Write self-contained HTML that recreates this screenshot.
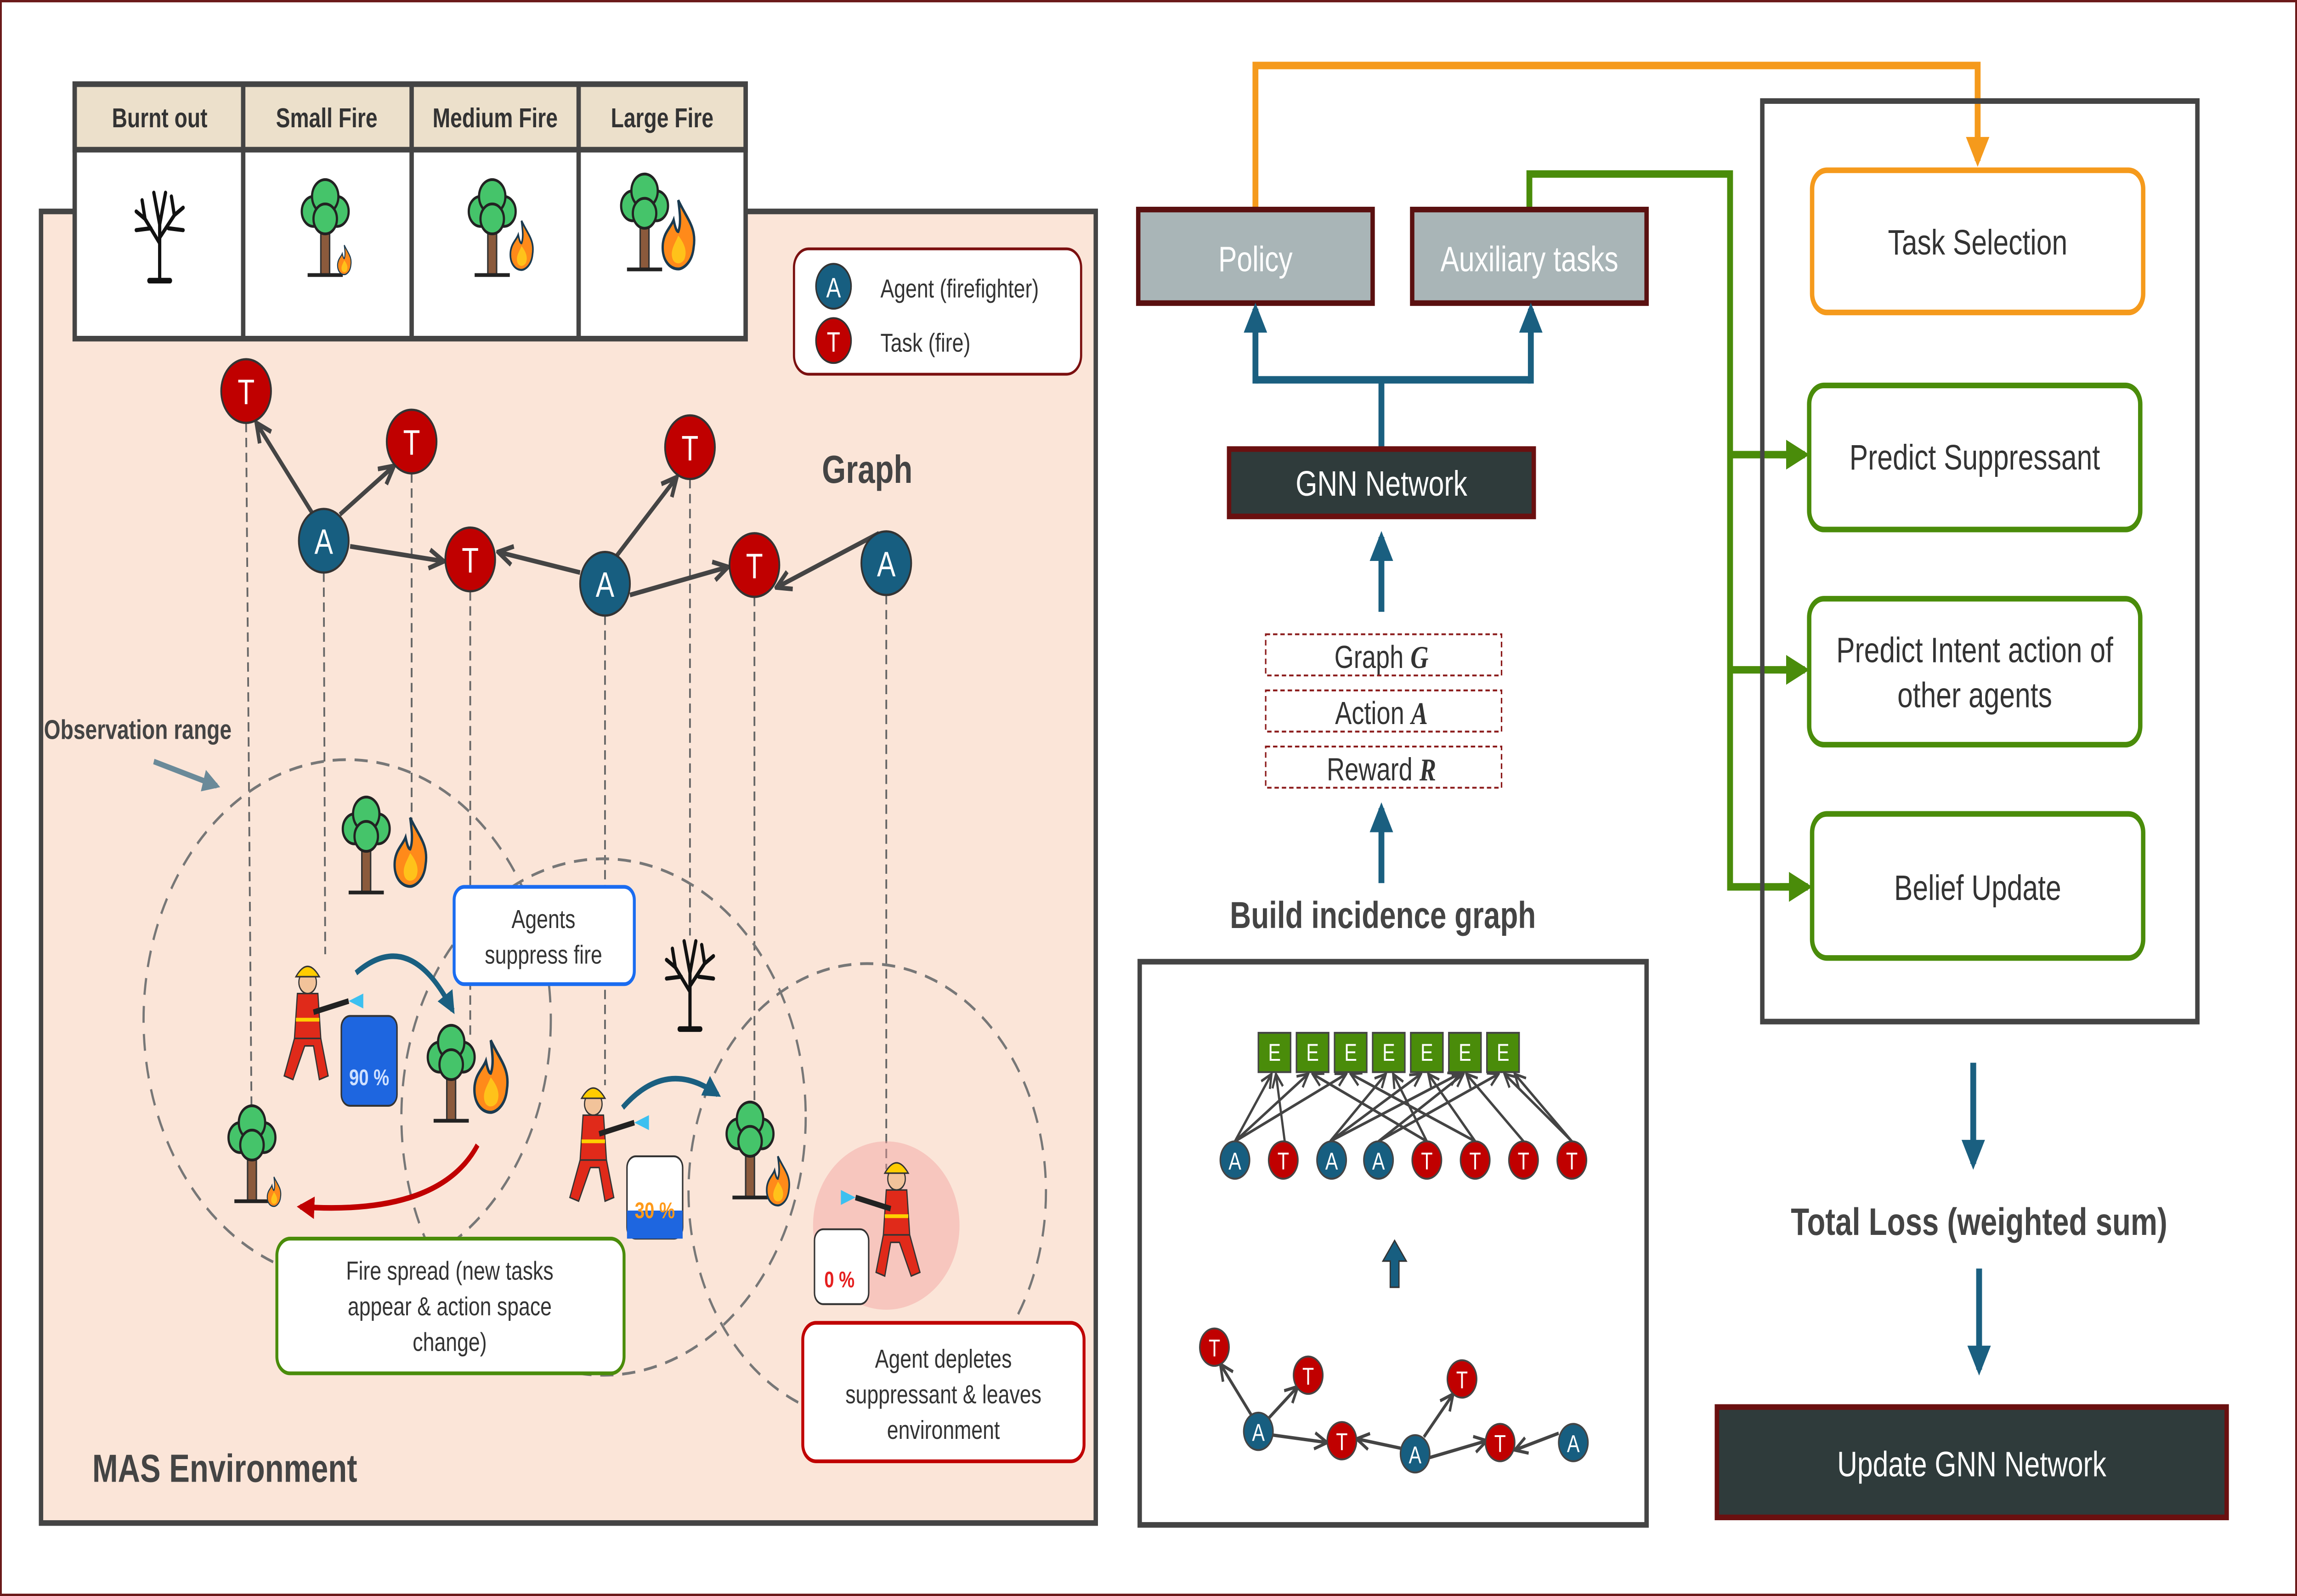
<!DOCTYPE html>
<html><head><meta charset="utf-8"><style>
html,body{margin:0;padding:0;background:#fff;overflow:hidden;width:100%;height:100%;}
svg{display:block;position:absolute;left:0;top:0;width:100vw;height:100vh;}
text{font-family:"Liberation Sans",sans-serif;}
</style></head><body>
<svg viewBox="0 0 1568 853" preserveAspectRatio="none" xmlns="http://www.w3.org/2000/svg">
<defs>
<marker id="ah" viewBox="0 0 10 10" refX="9" refY="5" markerWidth="5" markerHeight="5" orient="auto"><path d="M1,1 L9,5 L1,9" fill="none" stroke="#444" stroke-width="2"/></marker>
<marker id="ahs" viewBox="0 0 10 10" refX="9" refY="5" markerWidth="6" markerHeight="6" orient="auto"><path d="M1,1 L9,5 L1,9" fill="none" stroke="#444" stroke-width="1.6"/></marker>
<marker id="bl" viewBox="0 0 10 10" refX="8" refY="5" markerWidth="4" markerHeight="4" orient="auto"><path d="M0,0 L10,5 L0,10 Z" fill="#1a5f80"/></marker>
<marker id="or" viewBox="0 0 10 10" refX="8" refY="5" markerWidth="4" markerHeight="4" orient="auto"><path d="M0,0 L10,5 L0,10 Z" fill="#f59a1c"/></marker>
<marker id="gr" viewBox="0 0 10 10" refX="8" refY="5" markerWidth="4" markerHeight="4" orient="auto"><path d="M0,0 L10,5 L0,10 Z" fill="#4a8c0a"/></marker>
<marker id="rd" viewBox="0 0 10 10" refX="8" refY="5" markerWidth="4" markerHeight="4" orient="auto"><path d="M0,0 L10,5 L0,10 Z" fill="#c00000"/></marker>
<marker id="gy" viewBox="0 0 10 10" refX="8" refY="5" markerWidth="4" markerHeight="4" orient="auto"><path d="M0,0 L10,5 L0,10 Z" fill="#6a8a99"/></marker>
<g id="tree">
<rect x="-3" y="-8" width="6" height="30" fill="#8b5a3c" stroke="#333" stroke-width="1"/>
<line x1="-12" y1="22" x2="12" y2="22" stroke="#222" stroke-width="2"/>
<circle cx="-8" cy="-12" r="8" fill="#45c46a" stroke="#222" stroke-width="1.5"/>
<circle cx="8" cy="-12" r="8" fill="#45c46a" stroke="#222" stroke-width="1.5"/>
<circle cx="0" cy="-20" r="9" fill="#45c46a" stroke="#222" stroke-width="1.5"/>
<circle cx="0" cy="-8" r="8" fill="#45c46a" stroke="#222" stroke-width="1.5"/>
</g>
<g id="fire">
<path d="M0,-20 C6,-10 12,-6 10,4 C9,12 3,15 0,15 C-6,15 -11,10 -10,2 C-9,-4 -5,-6 -3,-10 C-2,-6 -1,-4 0,-4 C2,-8 1,-14 0,-20Z" fill="#ff8a1a" stroke="#1a3a50" stroke-width="1.5"/>
<path d="M0,-2 C4,2 6,6 4,10 C2,13 -3,13 -4,9 C-5,5 -2,2 0,-2Z" fill="#ffc21a"/>
</g>
<g id="dead" stroke="#111" fill="none" stroke-linecap="round">
<path d="M0,25 L0,-5 M0,5 L-10,-8 L-16,-12 M-10,-8 L-12,-18 M0,2 L10,-10 L16,-14 M10,-10 L8,-20 M0,-5 L-4,-22 M0,-5 L4,-22 M-6,-3 L-16,-2 M6,-3 L16,-2" stroke-width="2.2"/>
<line x1="-7" y1="25" x2="7" y2="25" stroke-width="3"/>
</g>
<g id="ff">
<circle cx="0" cy="-30" r="6" fill="#f2c39a" stroke="#333" stroke-width="0.8"/>
<path d="M-8,-33 Q0,-44 8,-33 Z" fill="#ffcc00" stroke="#333" stroke-width="0.8"/>
<path d="M-7,-24 L7,-24 L9,0 L-9,0 Z" fill="#e02a1a" stroke="#333" stroke-width="0.8"/>
<path d="M-9,0 L-16,20 L-10,22 L-2,4 L4,4 L8,22 L14,20 L9,0 Z" fill="#e02a1a" stroke="#333" stroke-width="0.8"/>
<line x1="-8" y1="-10" x2="8" y2="-10" stroke="#ffd000" stroke-width="2"/>
<line x1="4" y1="-14" x2="28" y2="-20" stroke="#222" stroke-width="3"/>
<path d="M28,-20 L38,-24 L38,-16 Z" fill="#3cc0f0"/>
</g>
</defs>

<rect x="0.5" y="0.5" width="1567" height="852" fill="#fff" stroke="#6b1a1a" stroke-width="1.5"/>

<rect x="28" y="113" width="720" height="701" fill="#fbe5d8" stroke="#444" stroke-width="3"/>

<g stroke="#666" stroke-width="1.2" stroke-dasharray="5,3">
<line x1="168" y1="226" x2="172" y2="625"/>
<line x1="221" y1="306" x2="222" y2="510"/>
<line x1="281" y1="253" x2="281" y2="450"/>
<line x1="321" y1="316" x2="321" y2="555"/>
<line x1="413" y1="329" x2="413" y2="580"/>
<line x1="471" y1="256" x2="471" y2="500"/>
<line x1="515" y1="319" x2="515" y2="605"/>
<line x1="605" y1="318" x2="605" y2="625"/>
</g>

<g fill="none" stroke="#777" stroke-width="1.5" stroke-dasharray="9,6">
<circle cx="237" cy="545" r="139"/>
<circle cx="412" cy="597" r="138"/>
<circle cx="592" cy="637" r="122"/>
</g>

<rect x="51" y="45" width="458" height="136" fill="#fff" stroke="#444" stroke-width="3"/>
<rect x="51" y="45" width="458" height="35" fill="#ece0cb" stroke="#444" stroke-width="3"/>
<g stroke="#444" stroke-width="3"><line x1="166" y1="45" x2="166" y2="181"/><line x1="281" y1="45" x2="281" y2="181"/><line x1="395" y1="45" x2="395" y2="181"/></g>
<g font-size="14.5" font-weight="bold" fill="#333" text-anchor="middle">
<text x="109" y="68">Burnt out</text><text x="223" y="68">Small Fire</text><text x="338" y="68">Medium Fire</text><text x="452" y="68">Large Fire</text>
</g>
<use href="#dead" x="109" y="125"/>
<use href="#tree" x="222" y="125"/><use href="#fire" transform="translate(235,140) scale(0.45)"/>
<use href="#tree" x="336" y="125"/><use href="#fire" transform="translate(356,133) scale(0.75)"/>
<use href="#tree" x="440" y="122"/><use href="#fire" transform="translate(463,128) scale(1.05)"/>

<rect x="542" y="133" width="196" height="67" rx="10" fill="#fff" stroke="#7b1010" stroke-width="1.5"/>
<circle cx="569" cy="153" r="12" fill="#175e80" stroke="#333" stroke-width="1"/><text x="569" y="159" font-size="15" fill="#fff" text-anchor="middle">A</text>
<circle cx="569" cy="182" r="12" fill="#c00000" stroke="#333" stroke-width="1"/><text x="569" y="188" font-size="15" fill="#fff" text-anchor="middle">T</text>
<text x="601" y="159" font-size="14" fill="#333">Agent (firefighter)</text>
<text x="601" y="188" font-size="14" fill="#333">Task (fire)</text>

<g stroke="#444" stroke-width="2.5" marker-end="url(#ah)">
<line x1="213" y1="274" x2="175" y2="226"/>
<line x1="232" y1="275" x2="269" y2="249"/>
<line x1="239" y1="292" x2="303" y2="300"/>
<line x1="396" y1="306" x2="340" y2="295"/>
<line x1="421" y1="297" x2="462" y2="255"/>
<line x1="430" y1="318" x2="497" y2="303"/>
<line x1="600" y1="285" x2="530" y2="314"/>
</g>
<g font-size="19" fill="#fff" text-anchor="middle">
<circle cx="168" cy="209" r="17" fill="#c00000" stroke="#333" stroke-width="1.2"/><text x="168" y="216">T</text>
<circle cx="281" cy="236" r="17" fill="#c00000" stroke="#333" stroke-width="1.2"/><text x="281" y="243">T</text>
<circle cx="221" cy="289" r="17" fill="#175e80" stroke="#333" stroke-width="1.2"/><text x="221" y="296">A</text>
<circle cx="321" cy="299" r="17" fill="#c00000" stroke="#333" stroke-width="1.2"/><text x="321" y="306">T</text>
<circle cx="413" cy="312" r="17" fill="#175e80" stroke="#333" stroke-width="1.2"/><text x="413" y="319">A</text>
<circle cx="471" cy="239" r="17" fill="#c00000" stroke="#333" stroke-width="1.2"/><text x="471" y="246">T</text>
<circle cx="515" cy="302" r="17" fill="#c00000" stroke="#333" stroke-width="1.2"/><text x="515" y="309">T</text>
<circle cx="605" cy="301" r="17" fill="#175e80" stroke="#333" stroke-width="1.2"/><text x="605" y="308">A</text>
</g>
<text x="592" y="258" font-size="21" font-weight="bold" fill="#444" text-anchor="middle">Graph</text>
<text x="30" y="395" font-size="14.5" font-weight="bold" fill="#444">Observation range</text>
<line x1="105" y1="407" x2="148" y2="420" stroke="#6a8a99" stroke-width="3" marker-end="url(#gy)"/>

<use href="#tree" x="250" y="455"/><use href="#fire" transform="translate(280,458) scale(1.05)"/>
<use href="#tree" x="172" y="620"/><use href="#fire" transform="translate(187,638) scale(0.45)"/>
<use href="#tree" x="308" y="577"/><use href="#fire" transform="translate(335,578) scale(1.1)"/>
<use href="#tree" x="512" y="618"/><use href="#fire" transform="translate(531,633) scale(0.75)"/>
<use href="#dead" x="471" y="525"/>

<ellipse cx="605" cy="655" rx="50" ry="45" fill="#f2a0a0" opacity="0.45"/>
<use href="#ff" x="210" y="555"/>
<use href="#ff" x="405" y="620"/>
<use href="#ff" transform="translate(612,660) scale(-1,1)"/>
<rect x="233" y="543" width="38" height="48" rx="6" fill="#1e66e0" stroke="#333" stroke-width="1"/>
<text x="252" y="580" font-size="12" font-weight="bold" fill="#cfe0ff" text-anchor="middle">90 %</text>
<rect x="428" y="618" width="38" height="44" rx="6" fill="#fff" stroke="#333" stroke-width="1"/>
<rect x="428" y="647" width="38" height="15" fill="#1e66e0"/>
<text x="447" y="651" font-size="12" font-weight="bold" fill="#ff9a1a" text-anchor="middle">30 %</text>
<rect x="556" y="657" width="37" height="40" rx="6" fill="#fff" stroke="#333" stroke-width="1"/>
<text x="573" y="688" font-size="12" font-weight="bold" fill="#e52020" text-anchor="middle">0 %</text>

<path d="M243,520 Q280,495 309,540" fill="none" stroke="#1a5f80" stroke-width="3" marker-end="url(#bl)"/>
<path d="M425,592 Q455,565 490,585" fill="none" stroke="#1a5f80" stroke-width="3" marker-end="url(#bl)"/>
<path d="M326,612 Q300,650 205,645" fill="none" stroke="#c00000" stroke-width="3" marker-end="url(#rd)"/>

<rect x="310" y="474" width="123" height="52" rx="7" fill="#fff" stroke="#1a6cf0" stroke-width="2"/>
<text x="371" y="496" font-size="14" fill="#333" text-anchor="middle">Agents</text>
<text x="371" y="515" font-size="14" fill="#333" text-anchor="middle">suppress fire</text>
<rect x="189" y="662" width="237" height="72" rx="9" fill="#fff" stroke="#4a8c0a" stroke-width="2"/>
<g font-size="14" fill="#333" text-anchor="middle"><text x="307" y="684">Fire spread  (new tasks</text><text x="307" y="703">appear &amp; action space</text><text x="307" y="722">change)</text></g>
<rect x="548" y="707" width="192" height="74" rx="9" fill="#fff" stroke="#c00000" stroke-width="2"/>
<g font-size="14" fill="#333" text-anchor="middle"><text x="644" y="731">Agent depletes</text><text x="644" y="750">suppressant &amp; leaves</text><text x="644" y="769">environment</text></g>
<text x="63" y="792" font-size="21" font-weight="bold" fill="#444">MAS Environment</text>

<path d="M857,112 L857,35 L1350,35 L1350,86" fill="none" stroke="#f59a1c" stroke-width="4" marker-end="url(#or)"/>
<path d="M1044,112 L1044,93 L1181,93 L1181,474 L1230,474 M1181,243 L1230,243 M1181,358 L1230,358" fill="none" stroke="#4a8c0a" stroke-width="4"/>
<g stroke="#4a8c0a" stroke-width="4" marker-end="url(#gr)"><line x1="1215" y1="243" x2="1232" y2="243"/><line x1="1215" y1="358" x2="1232" y2="358"/><line x1="1215" y1="474" x2="1234" y2="474"/></g>

<rect x="777" y="112" width="160" height="50" fill="#a9b5b7" stroke="#5a1010" stroke-width="3"/>
<text x="857" y="145" font-size="19" fill="#fff" text-anchor="middle">Policy</text>
<rect x="964" y="112" width="160" height="50" fill="#a9b5b7" stroke="#5a1010" stroke-width="3"/>
<text x="1044" y="145" font-size="19" fill="#fff" text-anchor="middle">Auxiliary tasks</text>
<path d="M943,240 L943,203 M857,203 L1045,203" fill="none" stroke="#1a5f80" stroke-width="4"/>
<g stroke="#1a5f80" stroke-width="4" marker-end="url(#bl)"><line x1="857" y1="205" x2="857" y2="165"/><line x1="1045" y1="205" x2="1045" y2="165"/></g>
<rect x="839" y="240" width="208" height="36" fill="#2f3b3b" stroke="#6a1010" stroke-width="3"/>
<text x="943" y="265" font-size="19" fill="#fff" text-anchor="middle">GNN Network</text>
<line x1="943" y1="327" x2="943" y2="287" stroke="#1a5f80" stroke-width="4" marker-end="url(#bl)"/>
<g fill="#fff" stroke="#8b1a1a" stroke-width="1" stroke-dasharray="3,2">
<rect x="864" y="339" width="161" height="22"/><rect x="864" y="369" width="161" height="22"/><rect x="864" y="399" width="161" height="22"/></g>
<g font-size="17" fill="#333" text-anchor="middle">
<text x="943" y="357">Graph <tspan font-family="Liberation Serif" font-style="italic" font-weight="bold">G</tspan></text>
<text x="943" y="387">Action <tspan font-family="Liberation Serif" font-style="italic" font-weight="bold">A</tspan></text>
<text x="943" y="417">Reward <tspan font-family="Liberation Serif" font-style="italic" font-weight="bold">R</tspan></text>
</g>
<line x1="943" y1="472" x2="943" y2="432" stroke="#1a5f80" stroke-width="4" marker-end="url(#bl)"/>
<text x="944" y="496" font-size="20" font-weight="bold" fill="#444" text-anchor="middle">Build incidence graph</text>
<rect x="778" y="514" width="346" height="301" fill="#fff" stroke="#444" stroke-width="3"/>

<g stroke="#444" stroke-width="1.5" marker-end="url(#ahs)">
<line x1="843" y1="610" x2="868" y2="574"/><line x1="843" y1="610" x2="893" y2="574"/><line x1="843" y1="610" x2="919" y2="574"/>
<line x1="877" y1="610" x2="871" y2="574"/>
<line x1="908" y1="610" x2="946" y2="574"/><line x1="908" y1="610" x2="970" y2="574"/><line x1="908" y1="610" x2="996" y2="574"/>
<line x1="941" y1="610" x2="999" y2="574"/><line x1="941" y1="610" x2="1023" y2="574"/>
<line x1="974" y1="610" x2="896" y2="574"/><line x1="974" y1="610" x2="951" y2="574"/>
<line x1="1007" y1="610" x2="922" y2="574"/><line x1="1007" y1="610" x2="975" y2="574"/>
<line x1="1040" y1="610" x2="1001" y2="574"/>
<line x1="1073" y1="610" x2="1027" y2="574"/><line x1="1073" y1="610" x2="1034" y2="574"/>
</g>
<g fill="#4a8c0a" stroke="#444" stroke-width="1">
<rect x="859" y="552" width="22" height="21"/><rect x="885" y="552" width="22" height="21"/><rect x="911" y="552" width="22" height="21"/><rect x="937" y="552" width="22" height="21"/><rect x="963" y="552" width="22" height="21"/><rect x="989" y="552" width="22" height="21"/><rect x="1015" y="552" width="22" height="21"/></g>
<g font-size="13" fill="#fff" text-anchor="middle">
<text x="870" y="567">E</text><text x="896" y="567">E</text><text x="922" y="567">E</text><text x="948" y="567">E</text><text x="974" y="567">E</text><text x="1000" y="567">E</text><text x="1026" y="567">E</text>
</g>
<g font-size="13" fill="#fff" text-anchor="middle" stroke-width="1">
<circle cx="843" cy="620" r="10" fill="#175e80" stroke="#444"/><text x="843" y="625">A</text>
<circle cx="876" cy="620" r="10" fill="#c00000" stroke="#444"/><text x="876" y="625">T</text>
<circle cx="909" cy="620" r="10" fill="#175e80" stroke="#444"/><text x="909" y="625">A</text>
<circle cx="941" cy="620" r="10" fill="#175e80" stroke="#444"/><text x="941" y="625">A</text>
<circle cx="974" cy="620" r="10" fill="#c00000" stroke="#444"/><text x="974" y="625">T</text>
<circle cx="1007" cy="620" r="10" fill="#c00000" stroke="#444"/><text x="1007" y="625">T</text>
<circle cx="1040" cy="620" r="10" fill="#c00000" stroke="#444"/><text x="1040" y="625">T</text>
<circle cx="1073" cy="620" r="10" fill="#c00000" stroke="#444"/><text x="1073" y="625">T</text>
</g>
<path d="M949,688 L949,674 L944,674 L952,663 L960,674 L955,674 L955,688 Z" fill="#175e80" stroke="#333" stroke-width="0.8"/>

<g stroke="#444" stroke-width="1.8" marker-end="url(#ahs)">
<line x1="854" y1="756" x2="833" y2="729"/>
<line x1="866" y1="758" x2="886" y2="741"/>
<line x1="869" y1="767" x2="906" y2="771"/>
<line x1="956" y1="774" x2="926" y2="769"/>
<line x1="972" y1="768" x2="992" y2="745"/>
<line x1="976" y1="779" x2="1015" y2="770"/>
<line x1="1064" y1="766" x2="1034" y2="775"/>
</g>
<g font-size="13" fill="#fff" text-anchor="middle">
<circle cx="829" cy="720" r="10" fill="#c00000" stroke="#444"/><text x="829" y="725">T</text>
<circle cx="859" cy="765" r="10" fill="#175e80" stroke="#444"/><text x="859" y="770">A</text>
<circle cx="893" cy="735" r="10" fill="#c00000" stroke="#444"/><text x="893" y="740">T</text>
<circle cx="916" cy="770" r="10" fill="#c00000" stroke="#444"/><text x="916" y="775">T</text>
<circle cx="966" cy="777" r="10" fill="#175e80" stroke="#444"/><text x="966" y="782">A</text>
<circle cx="998" cy="737" r="10" fill="#c00000" stroke="#444"/><text x="998" y="742">T</text>
<circle cx="1024" cy="771" r="10" fill="#c00000" stroke="#444"/><text x="1024" y="776">T</text>
<circle cx="1074" cy="771" r="10" fill="#175e80" stroke="#444"/><text x="1074" y="776">A</text>
</g>

<rect x="1203" y="54" width="297" height="492" fill="none" stroke="#444" stroke-width="3"/>
<rect x="1237" y="91" width="226" height="76" rx="10" fill="#fff" stroke="#f59a1c" stroke-width="3"/>
<text x="1350" y="136" font-size="19" fill="#333" text-anchor="middle">Task Selection</text>
<rect x="1235" y="206" width="226" height="77" rx="10" fill="#fff" stroke="#4a8c0a" stroke-width="3"/>
<text x="1348" y="251" font-size="19" fill="#333" text-anchor="middle">Predict Suppressant</text>
<rect x="1235" y="320" width="226" height="78" rx="10" fill="#fff" stroke="#4a8c0a" stroke-width="3"/>
<text x="1348" y="354" font-size="19" fill="#333" text-anchor="middle">Predict Intent action of</text>
<text x="1348" y="378" font-size="19" fill="#333" text-anchor="middle">other agents</text>
<rect x="1237" y="435" width="226" height="77" rx="10" fill="#fff" stroke="#4a8c0a" stroke-width="3"/>
<text x="1350" y="481" font-size="19" fill="#333" text-anchor="middle">Belief Update</text>
<line x1="1347" y1="568" x2="1347" y2="622" stroke="#1a5f80" stroke-width="4" marker-end="url(#bl)"/>
<text x="1351" y="660" font-size="20.5" font-weight="bold" fill="#444" text-anchor="middle">Total Loss (weighted sum)</text>
<line x1="1351" y1="678" x2="1351" y2="732" stroke="#1a5f80" stroke-width="4" marker-end="url(#bl)"/>
<rect x="1172" y="752" width="348" height="59" fill="#2f3b3b" stroke="#6a1010" stroke-width="3"/>
<text x="1346" y="789" font-size="19" fill="#fff" text-anchor="middle">Update GNN Network</text>
</svg>
</body></html>
